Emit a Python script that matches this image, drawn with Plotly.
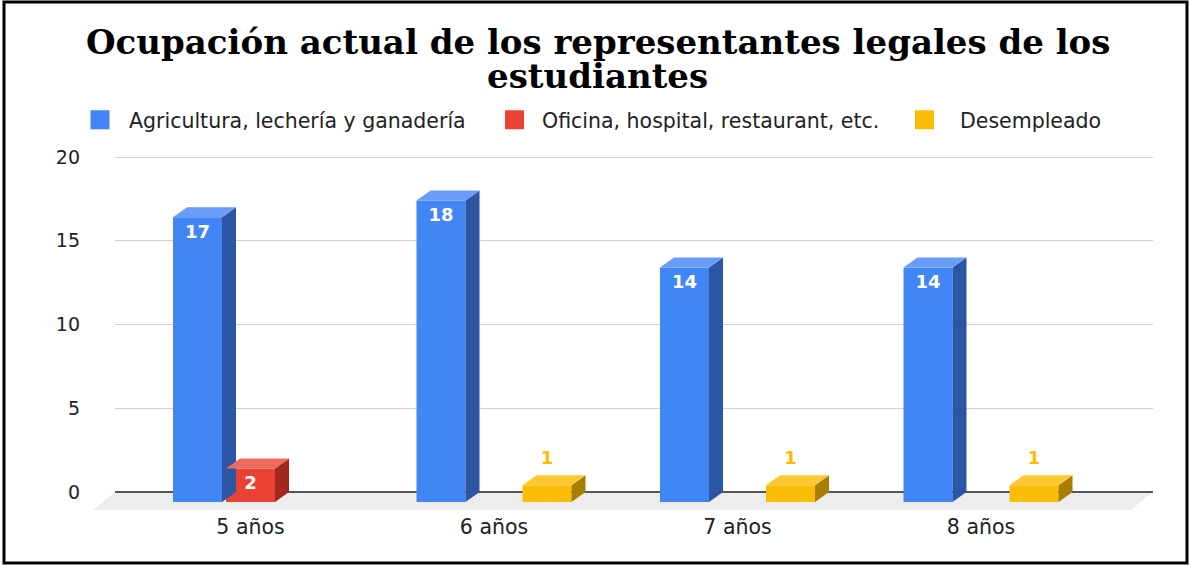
import plotly.graph_objects as go

# ---------------- data ----------------
categories = ["5 años", "6 años", "7 años", "8 años"]
agricultura = [17, 18, 14, 14]
oficina = [2, 0, 0, 0]
desempleado = [0, 1, 1, 1]
series_names = ["Agricultura, lechería y ganadería",
                "Oficina, hospital, restaurant, etc.",
                "Desempleado"]
y_ticks = [0, 5, 10, 15, 20]
title_lines = ["Ocupación actual de los representantes legales de los", "estudiantes"]

series_values = [agricultura, oficina, desempleado]

# ---------------- style ----------------
front_colors = ["#4285F4", "#EA4335", "#FBBC04"]
side_colors = ["#2C56A3", "#A0281D", "#A87E00"]
top_colors = ["#6A9DF7", "#EE6A5E", "#FCC934"]
label_inside_color = "#FFFFFF"
SANS = "DejaVu Sans"
SERIF = "DejaVu Serif"

W, H = 1190, 565
FLOOR_LEFT_PX, BACK_LEFT_PX, RIGHT_PX = 93, 115, 1153
TOP_PX, BOTTOM_PX = 140, 512
ZERO_PX = 492
PX_PER_CAT = 243.5
PX_PER_UNIT = 16.75
DEPTH_X_PX, DEPTH_Y_PX = 14, 10
FLOOR_DX_PX, FLOOR_DY_PX = 22, 18
BAR_W_PX, BAR_GAP_PX = 49, 4
X2_LEFT = -0.614

# legend layout: (square centre px, item width)
legend_pos = [(100, 48), (514.5, 45), (924.5, 61)]
LEGEND_Y_PX = 120

dxc = DEPTH_X_PX / PX_PER_CAT
dyu = DEPTH_Y_PX / PX_PER_UNIT
bw = BAR_W_PX / PX_PER_CAT
bg = BAR_GAP_PX / PX_PER_CAT
offsets = [-1.5 * bw - bg, -0.5 * bw, 0.5 * bw + bg]

x2_range = [X2_LEFT, X2_LEFT + (RIGHT_PX - BACK_LEFT_PX) / PX_PER_CAT]
x1_range = [X2_LEFT - (BACK_LEFT_PX - FLOOR_LEFT_PX) / PX_PER_CAT, x2_range[1]]
y_range = [-(BOTTOM_PX - ZERO_PX) / PX_PER_UNIT, (ZERO_PX - TOP_PX) / PX_PER_UNIT]

plot_w = RIGHT_PX - FLOOR_LEFT_PX
plot_h = BOTTOM_PX - TOP_PX


def px_x(p):
    return (p - FLOOR_LEFT_PX) / plot_w


def px_y(p):
    return (BOTTOM_PX - p) / plot_h


fig = go.Figure()

# floor (on subplot xy, which extends further left)
fdx = FLOOR_DX_PX / PX_PER_CAT
fdy = FLOOR_DY_PX / PX_PER_UNIT
fig.add_trace(go.Scatter(
    x=[x2_range[0], x2_range[1], x2_range[1] - fdx, x2_range[0] - fdx, x2_range[0]],
    y=[0, 0, -fdy, -fdy, 0],
    mode="lines", fill="toself", fillcolor="#EDEDED", line=dict(width=0),
    hoverinfo="skip", showlegend=False, xaxis="x", yaxis="y"))

# legend entries, one legend per series so each can be placed exactly
legend_ids = ["legend", "legend2", "legend3"]
for k, name in enumerate(series_names):
    fig.add_trace(go.Scatter(
        x=[None], y=[None], mode="markers", name=name, legend=legend_ids[k],
        marker=dict(symbol="square", size=16, color=front_colors[k],
                    line=dict(color=front_colors[k], width=3)),
        xaxis="x", yaxis="y"))

# bars with 3D faces
lab_x, lab_y, lab_t, lab_c = [], [], [], []
for k, vals in enumerate(series_values):
    xs = [i - dxc for i in range(len(categories))]
    fig.add_trace(go.Bar(
        x=xs, y=vals, base=-dyu, offset=offsets[k], width=bw,
        marker=dict(color=front_colors[k], line=dict(width=0)),
        name=series_names[k], showlegend=False,
        customdata=categories, hovertemplate="%{customdata}: %{y}<extra></extra>",
        xaxis="x2", yaxis="y2"))
    sx, sy, tx, ty = [], [], [], []
    for i, v in enumerate(vals):
        if v <= 0:
            continue
        L = i - dxc + offsets[k]
        R = L + bw
        sx += [R, R, R + dxc, R + dxc, R, None]
        sy += [-dyu, v - dyu, v, 0, -dyu, None]
        tx += [L, R, R + dxc, L + dxc, L, None]
        ty += [v - dyu, v - dyu, v, v, v - dyu, None]
        lab_x.append(L + bw / 2)
        if v >= 2:
            lab_y.append(v - dyu - 16 / PX_PER_UNIT)
            lab_c.append(label_inside_color)
        else:
            lab_y.append(v + 16 / PX_PER_UNIT)
            lab_c.append(front_colors[k])
        lab_t.append(str(v))
    fig.add_trace(go.Scatter(x=sx, y=sy, mode="lines", fill="toself",
                             fillcolor=side_colors[k], line=dict(width=0),
                             hoverinfo="skip", showlegend=False,
                             xaxis="x2", yaxis="y2"))
    fig.add_trace(go.Scatter(x=tx, y=ty, mode="lines", fill="toself",
                             fillcolor=top_colors[k], line=dict(width=0),
                             hoverinfo="skip", showlegend=False,
                             xaxis="x2", yaxis="y2"))

fig.add_trace(go.Scatter(
    x=lab_x, y=lab_y, text=lab_t, mode="text",
    textfont=dict(family=SANS, size=18, color=lab_c, weight="bold"),
    textposition="middle center", hoverinfo="skip", showlegend=False,
    xaxis="x2", yaxis="y2"))

legend_layout = {}
for k, lid in enumerate(legend_ids):
    cx, iw = legend_pos[k]
    legend_layout[lid] = dict(
        orientation="h", x=px_x(cx - (iw / 2 + 5)), xanchor="left",
        y=px_y(LEGEND_Y_PX), yanchor="middle", itemwidth=iw,
        font=dict(family=SANS, size=20.5, color="#222222"),
        bgcolor="rgba(0,0,0,0)", borderwidth=0)

fig.update_layout(
    width=W, height=H,
    margin=dict(l=FLOOR_LEFT_PX, r=W - RIGHT_PX, t=TOP_PX, b=H - BOTTOM_PX, pad=0),
    paper_bgcolor="white", plot_bgcolor="rgba(0,0,0,0)",
    barmode="overlay",
    font=dict(family=SANS, color="#222222"),
    xaxis=dict(domain=[0, 1], range=x1_range, visible=False, fixedrange=True),
    yaxis=dict(domain=[0, 1], range=y_range, visible=False, fixedrange=True),
    xaxis2=dict(domain=[px_x(BACK_LEFT_PX), 1], range=x2_range, anchor="y2",
                tickmode="array", tickvals=[i - dxc for i in range(len(categories))],
                ticktext=categories, showgrid=False, zeroline=False, showline=False,
                ticks="", tickfont=dict(family=SANS, size=20.5, color="#222222"),
                ticklabelstandoff=0, fixedrange=True),
    yaxis2=dict(domain=[0, 1], range=y_range, anchor="x2",
                tickmode="array", tickvals=y_ticks, showgrid=True,
                gridcolor="#D0D0D0", gridwidth=1,
                zeroline=True, zerolinecolor="#555555", zerolinewidth=2,
                showline=False, ticks="",
                tickfont=dict(family=SANS, size=19, color="#222222"),
                ticklabelstandoff=34, fixedrange=True),
    annotations=[
        dict(text="<b>%s</b>" % title_lines[0], xref="paper", yref="paper",
             x=px_x(597.5), y=px_y(42.5), xanchor="center", yanchor="middle",
             showarrow=False, font=dict(family=SERIF, size=34, color="#000000")),
        dict(text="<b>%s</b>" % title_lines[1], xref="paper", yref="paper",
             x=px_x(597.5), y=px_y(75.5), xanchor="center", yanchor="middle",
             showarrow=False, font=dict(family=SERIF, size=34, color="#000000")),
    ],
    shapes=[dict(type="rect", xref="paper", yref="paper",
                 x0=px_x(4), x1=px_x(1187), y0=px_y(563), y1=px_y(2),
                 line=dict(color="#000000", width=3), fillcolor="rgba(0,0,0,0)",
                 layer="above")],
    **legend_layout,
)

fig.write_html("out.html", config={"displayModeBar": False},
               post_script="document.body.style.margin='0px';")
